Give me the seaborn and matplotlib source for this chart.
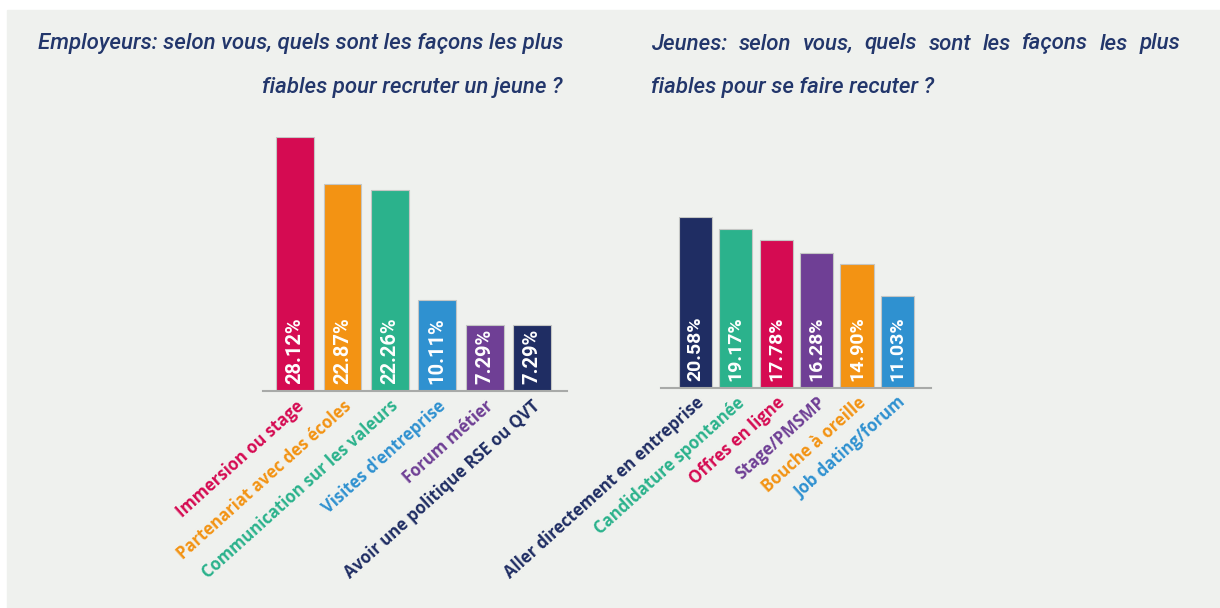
import matplotlib
matplotlib.use("Agg")
import matplotlib.pyplot as plt
import matplotlib.transforms as mtransforms
from matplotlib.patches import Rectangle
import seaborn as sns

# data
emp_labels = ["Immersion ou stage", "Partenariat avec des écoles",
              "Communication sur les valeurs", "Visites d'entreprise",
              "Forum métier", "Avoir une politique RSE ou QVT"]
emp_values = [28.12, 22.87, 22.26, 10.11, 7.29, 7.29]
emp_colors = ["#d50b52", "#f39313", "#2bb28c", "#2f91d0", "#6f3f95", "#1f2d63"]

jeu_labels = ["Aller directement en entreprise", "Candidature spontanée",
              "Offres en ligne", "Stage/PMSMP", "Bouche à oreille",
              "Job dating/forum"]
jeu_values = [20.58, 19.17, 17.78, 16.28, 14.90, 11.03]
jeu_colors = ["#1f2d63", "#2bb28c", "#d50b52", "#6f3f95", "#f39313", "#2f91d0"]

title_emp = ["Employeurs: selon vous, quels sont les façons les plus",
             "fiables pour recruter un jeune ?"]
title_jeu = ["Jeunes: selon vous, quels sont les façons les plus",
             "fiables pour se faire recuter ?"]

BG = "#eff1ee"
NAVY = "#22366b"
W, H = 1220, 608

sns.set_style("white")
plt.rcParams["font.family"] = ["Roboto", "DejaVu Sans"]

fig = plt.figure(figsize=(W / 100, H / 100), dpi=100, facecolor="white")
fig.patches.append(Rectangle((7 / W, 0), 1 - 7 / W, 1 - 10 / H,
                             transform=fig.transFigure, color=BG, zorder=-10))


def px_axes(x0, x1, y_top, y_base):
    return fig.add_axes([x0 / W, 1 - y_base / H, (x1 - x0) / W, (y_base - y_top) / H])


def draw_panel(ax, labels, values, colors, width, xlim, fs_val):
    sns.barplot(x=labels, y=values, hue=labels, palette=colors, legend=False,
                saturation=1, width=width, edgecolor="#c4c6c4", linewidth=0.8, ax=ax)
    ax.set_facecolor("none")
    ax.set_xlim(*xlim)
    ax.set_ylim(0, max(values))
    ax.set_yticks([])
    ax.set_ylabel("")
    for s in ["top", "right", "left"]:
        ax.spines[s].set_visible(False)
    ax.spines["bottom"].set_color("#a8aaa8")
    ax.spines["bottom"].set_linewidth(1.5)
    ax.tick_params(axis="x", length=0, pad=9)
    ax.set_xticks(range(len(labels)))
    ax.set_xticklabels(labels, rotation=42, ha="right", va="center",
                       rotation_mode="anchor", fontsize=12,
                       fontfamily=["Open Sans", "DejaVu Sans"], fontweight="bold")
    shift = mtransforms.ScaledTranslation(6 / 100, 0, fig.dpi_scale_trans)
    for lab, c in zip(ax.get_xticklabels(), colors):
        lab.set_color(c)
        lab.set_transform(lab.get_transform() + shift)
    for i, v in enumerate(values):
        ax.annotate(f"{v:.2f}%", (i, 0), xytext=(0, 5), textcoords="offset points",
                    rotation=90, ha="center", va="bottom", color="white",
                    fontsize=fs_val, fontweight="bold")


ax1 = px_axes(263, 567, 137, 391)
draw_panel(ax1, emp_labels, emp_values, emp_colors, 0.8, (-0.68, 5.74), 14.5)

ax2 = px_axes(661, 931, 217, 388)
draw_panel(ax2, jeu_labels, jeu_values, jeu_colors, 0.82, (-0.85, 5.83), 14)

# titles
tkw = dict(fontsize=16, style="italic", fontweight="medium", color=NAVY)
fig.text(563 / W, 1 - 44 / H, title_emp[0], ha="right", va="center", **tkw)
fig.text(563 / W, 1 - 87 / H, title_emp[1], ha="right", va="center", **tkw)

# justified first line of right title
renderer = fig.canvas.get_renderer()
words = title_jeu[0].split()
widths = []
for w in words:
    t = fig.text(0, 0, w, **tkw)
    widths.append(t.get_window_extent(renderer).width)
    t.remove()
x0, x1 = 651, 1180
gap = (x1 - x0 - sum(widths)) / (len(words) - 1)
x = x0
for w, wd in zip(words, widths):
    fig.text(x / W, 1 - 44 / H, w, ha="left", va="center", **tkw)
    x += wd + gap
fig.text(651 / W, 1 - 87 / H, title_jeu[1], ha="left", va="center", **tkw)

fig.savefig("out.png", dpi=100, facecolor=fig.get_facecolor())
